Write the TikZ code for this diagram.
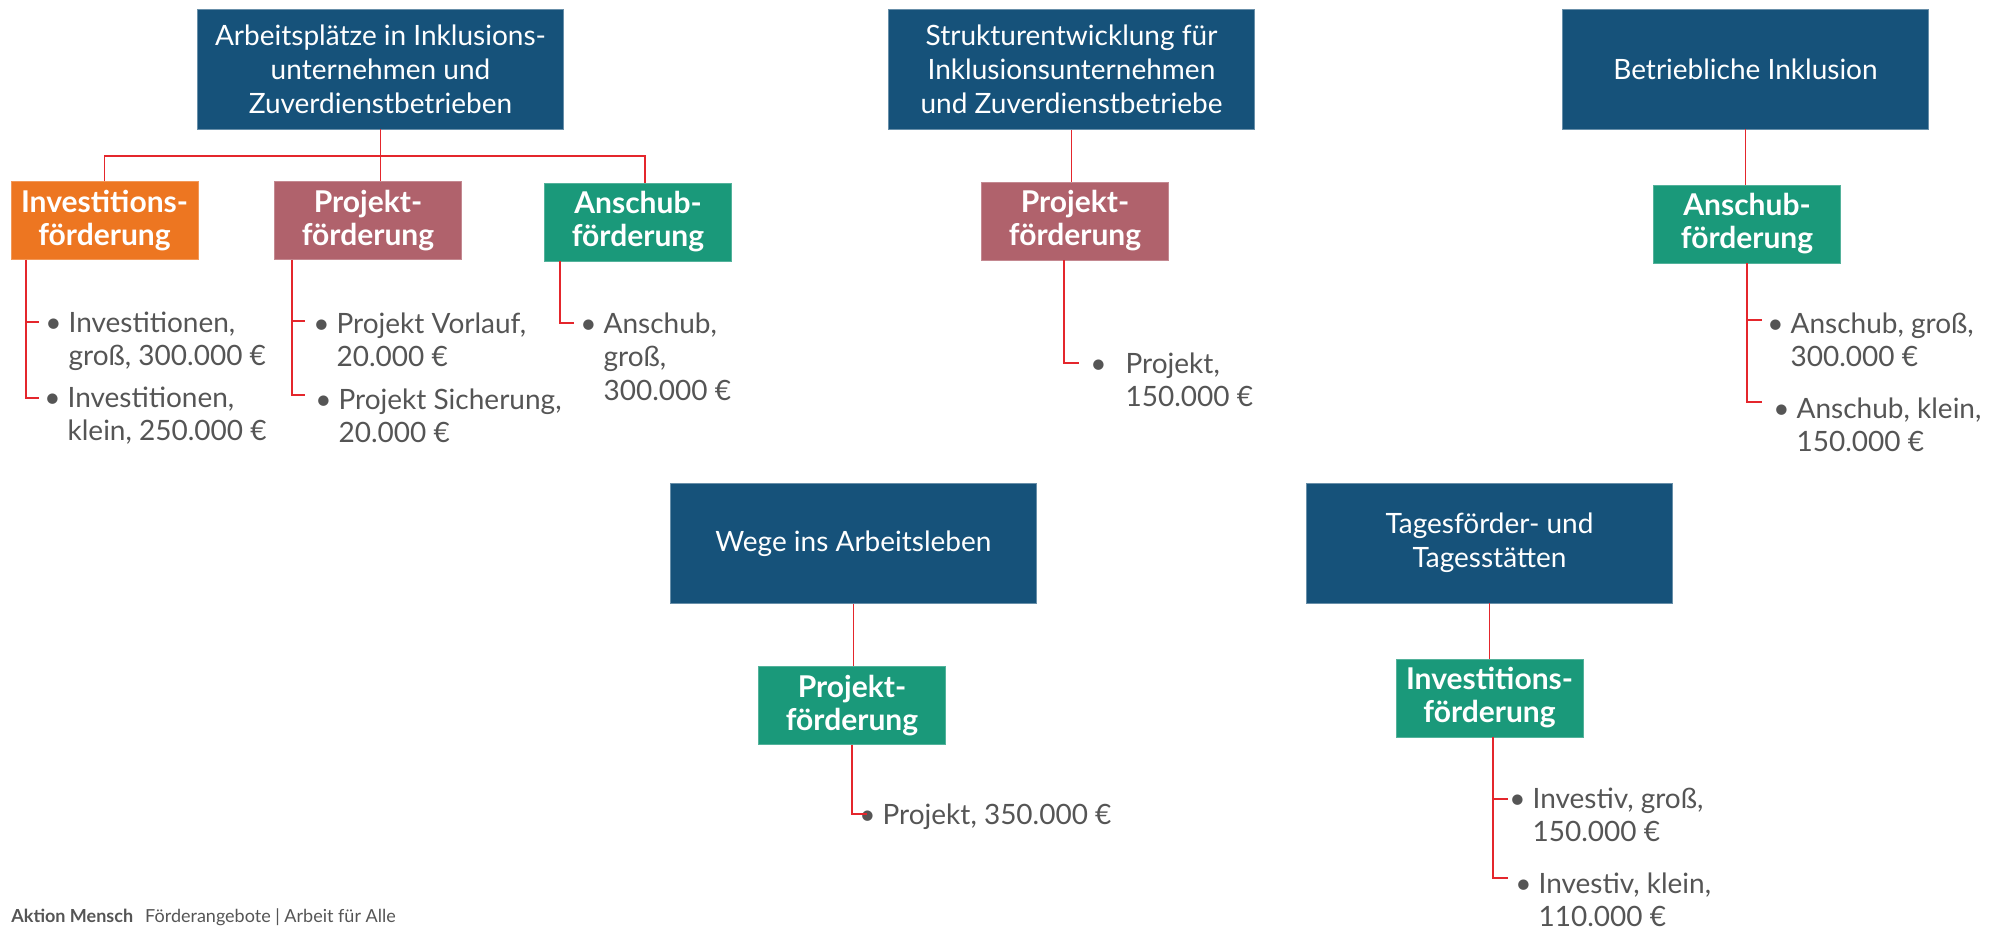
\documentclass[tikz,border=0pt]{standalone}
\usepackage{fontspec}
\setmainfont{Lato}
\usepackage{tikz}
\usetikzlibrary{positioning}

\definecolor{kopfblau}{HTML}{16527A}
\definecolor{fOrange}{HTML}{ED7621}
\definecolor{fRose}{HTML}{B0626C}
\definecolor{fGruen}{HTML}{1A997A}
\definecolor{linienrot}{HTML}{E4262C}
\definecolor{textgrau}{HTML}{555555}

% Aufzaehlungspunkt mit haengendem Einzug
\newcommand{\aufz}[2][3.5pt]{\textbullet\hspace{#1}\begin{tabular}[t]{@{}l@{}}#2\end{tabular}}

\begin{document}
\begin{tikzpicture}[x=0.5pt,y=-0.5pt,
kopf/.style={fill=kopfblau,draw=kopfblau!65!white,line width=0.4pt,text=white,align=center,minimum width=183pt,minimum height=60pt,inner sep=0pt,font=\fontsize{14}{17}\selectfont},
foerd/.style={fill=#1,draw=#1!75!white,line width=0.4pt,text=white,align=center,minimum width=93.5pt,minimum height=39pt,inner sep=0pt,font=\bfseries\fontsize{15}{16.5}\selectfont},
punkt/.style={anchor=base west,inner sep=0pt,text=textgrau,font=\fontsize{14}{16.75}\selectfont},
linie/.style={draw=linienrot,line width=0.9pt}]
\useasboundingbox (0,0) rectangle (2007,931);

% Bereiche
\node[kopf] (arbeit) at (380.5,69) {Arbeitsplätze in Inklusions-\\unternehmen und\\Zuverdienstbetrieben};
\node[kopf] (struktur) at (1071.5,69.5) {Strukturentwicklung für\\Inklusionsunternehmen\\und Zuverdienstbetriebe};
\node[kopf] (betrieb) at (1745.5,69) {Betriebliche Inklusion};
\node[kopf] (wege) at (853.5,543.5) {Wege ins Arbeitsleben};
\node[kopf] (tages) at (1489.5,543) {Tagesförder- und\\Tagesstätten};

% Foerderarten
\node[foerd=fOrange] (inv1) at (104.5,220.5) {Investitions-\\förderung};
\node[foerd=fRose] (proj1) at (368,220.5) {Projekt-\\förderung};
\node[foerd=fGruen] (ansch1) at (638,222) {Anschub-\\förderung};
\node[foerd=fRose] (proj2) at (1075,221) {Projekt-\\förderung};
\node[foerd=fGruen] (ansch2) at (1747,224) {Anschub-\\förderung};
\node[foerd=fGruen] (proj3) at (852,705.5) {Projekt-\\förderung};
\node[foerd=fGruen] (inv3) at (1489.5,698) {Investitions-\\förderung};

% Summen
\node[punkt] (i11) at (45,332) {\aufz{Investitionen,\\groß, 300.000 €}};
\node[punkt] (i12) at (44,407) {\aufz{Investitionen,\\klein, 250.000 €}};
\node[punkt] (i21) at (313,333) {\aufz{Projekt Vorlauf,\\20.000 €}};
\node[punkt] (i22) at (315,409) {\aufz{Projekt Sicherung,\\20.000 €}};
\node[punkt] (i31) at (580,333) {\aufz{Anschub,\\groß,\\300.000 €}};
\node[punkt] (i41) at (1090,373) {\aufz[9.5pt]{Projekt,\\150.000 €}};
\node[punkt] (i51) at (1767,333) {\aufz{Anschub, groß,\\300.000 €}};
\node[punkt] (i52) at (1773,418) {\aufz{Anschub, klein,\\150.000 €}};
\node[punkt] (i61) at (859,824) {\aufz{Projekt, 350.000 €}};
\node[punkt] (i71) at (1509,808) {\aufz{Investiv, groß,\\150.000 €}};
\node[punkt] (i72) at (1515,893) {\aufz{Investiv, klein,\\110.000 €}};

% Verbindungen
\coordinate (gabel) at (380.5,156);
\draw[linie] (arbeit.south) -- (arbeit.south |- proj1.north);
\draw[linie] (inv1.north) |- (gabel) -| ([xshift=3.5pt]ansch1.north);
\draw[linie] (struktur.south) -- (struktur.south |- proj2.north);
\draw[linie] (betrieb.south) -- (betrieb.south |- ansch2.north);
\draw[linie] (wege.south) -- (wege.south |- proj3.north);
\draw[linie] (tages.south) -- (tages.south |- inv3.north);

\coordinate (a1) at ([xshift=7.5pt]inv1.south west);
\coordinate (a2) at ([xshift=8.75pt]proj1.south west);
\coordinate (a3) at ([xshift=7.75pt]ansch1.south west);
\coordinate (a4) at ([xshift=-5.5pt]proj2.south);
\coordinate (a5) at (ansch2.south);
\coordinate (a6) at (proj3.south);
\coordinate (a7) at ([xshift=1.75pt]inv3.south);
\coordinate (k11) at (39,322);
\coordinate (k12) at (39,398);
\coordinate (k21) at (305,321);
\coordinate (k22) at (305,395);
\coordinate (k31) at (574,323);
\coordinate (k41) at (1079,363);
\coordinate (k51) at (1762,320);
\coordinate (k52) at (1762,402);
\coordinate (k61) at (867,814);
\coordinate (k71) at (1508,799);
\coordinate (k72) at (1508,878);
\foreach \a/\k in {a1/k11,a1/k12,a2/k21,a2/k22,a3/k31,a4/k41,a5/k51,a5/k52,a6/k61,a7/k71,a7/k72}
   \draw[linie] (\a) |- (\k);

% Fusszeile
\node[anchor=base west,inner sep=0pt,text=textgrau,font=\fontsize{9}{11}\selectfont] (fuss) at (11,922) {\textbf{Aktion Mensch}\hspace{6pt}Förderangebote | Arbeit für Alle};
\end{tikzpicture}
\end{document}
